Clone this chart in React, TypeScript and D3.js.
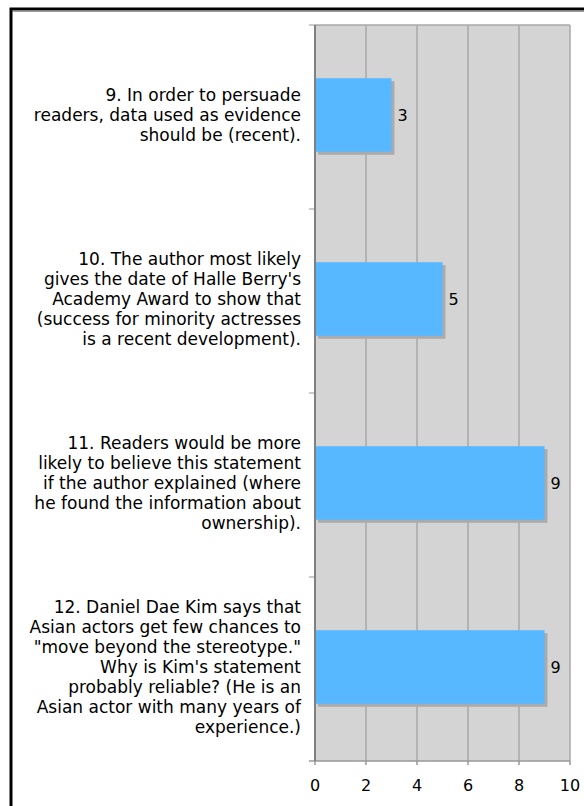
import React from "react";
import * as d3 from "d3";

const categories: string[][] = [
  ["9. In order to persuade", "readers, data used as evidence", "should be (recent)."],
  [
    "10. The author most likely",
    "gives the date of Halle Berry's",
    "Academy Award to show that",
    "(success for minority actresses",
    "is a recent development).",
  ],
  [
    "11. Readers would be more",
    "likely to believe this statement",
    "if the author explained (where",
    "he found the information about",
    "ownership).",
  ],
  [
    "12. Daniel Dae Kim says that",
    "Asian actors get few chances to",
    "\"move beyond the stereotype.\"",
    "Why is Kim's statement",
    "probably reliable? (He is an",
    "Asian actor with many years of",
    "experience.)",
  ],
];
const values: number[] = [3, 5, 9, 9];
const ticks: number[] = [0, 2, 4, 6, 8, 10];

const W = 584;
const H = 806;
const plotLeft = 315;
const plotRight = 570;
const plotTop = 25;
const plotBottom = 761;
const FONT = "'DejaVu Sans', Verdana, sans-serif";

export default function App() {
  const x = d3.scaleLinear().domain([0, 10]).range([plotLeft, plotRight]);
  const y = d3
    .scaleBand<number>()
    .domain(categories.map((_, i) => i))
    .range([plotTop, plotBottom])
    .padding(0);
  const band = y.bandwidth();
  const barH = band * 0.4;
  const lineH = 20;

  return (
    <svg
      width={W}
      height={H}
      style={{ position: "absolute", left: 0, top: 0, display: "block" }}
      fontFamily={FONT}
    >
      <rect x={0} y={0} width={W} height={H} fill="#fff" />
      {/* frame */}
      <rect x={11} y={9} width={700} height={900} fill="none" stroke="#000" strokeWidth={3} />
      <line x1={13} y1={11.5} x2={W} y2={11.5} stroke="#9a9a9a" strokeWidth={1} />
      {/* plot bg */}
      <rect
        x={plotLeft}
        y={plotTop}
        width={plotRight - plotLeft}
        height={plotBottom - plotTop}
        fill="#d4d4d4"
      />
      {/* gridlines */}
      {ticks.map((t) => (
        <line
          key={"g" + t}
          x1={x(t)}
          x2={x(t)}
          y1={plotTop}
          y2={plotBottom}
          stroke="#a8a8a8"
          strokeWidth={1.5}
        />
      ))}
      <line x1={plotLeft} x2={plotRight} y1={plotTop} y2={plotTop} stroke="#a8a8a8" strokeWidth={1.5} />
      {/* category ticks */}
      {categories.map((_, i) => (
        <line
          key={"ct" + i}
          x1={309}
          x2={plotLeft}
          y1={y(i) as number}
          y2={y(i) as number}
          stroke="#bbbbbb"
          strokeWidth={1.5}
        />
      ))}
      <line x1={309} x2={plotLeft} y1={plotBottom} y2={plotBottom} stroke="#999" strokeWidth={1.5} />
      {/* bottom axis */}
      <line x1={plotLeft} x2={plotRight} y1={plotBottom} y2={plotBottom} stroke="#999" strokeWidth={1.5} />
      {ticks.map((t) => (
        <line
          key={"t" + t}
          x1={x(t)}
          x2={x(t)}
          y1={plotBottom}
          y2={plotBottom + 4}
          stroke="#999"
          strokeWidth={1.5}
        />
      ))}
      {ticks.map((t) => (
        <text key={"tl" + t} x={x(t)} y={791} textAnchor="middle" fontSize={16} fill="#000">
          {t}
        </text>
      ))}
      {/* bars */}
      {values.map((v, i) => {
        const by = (y(i) as number) + (band - barH) / 2 - 2;
        return (
          <g key={"b" + i}>
            <rect x={x(0) + 3} y={by + 3} width={x(v) - x(0)} height={barH} fill="#ababab" />
            <rect x={x(0)} y={by} width={x(v) - x(0)} height={barH} fill="#57b8ff" />
            <text
              x={x(v) + 6}
              y={by + barH / 2}
              dominantBaseline="central"
              fontSize={16}
              fill="#000"
            >
              {v}
            </text>
          </g>
        );
      })}
      {/* left axis line */}
      <line x1={plotLeft} x2={plotLeft} y1={plotTop} y2={plotBottom} stroke="#808080" strokeWidth={2} />
      {/* category labels */}
      {categories.map((lines, i) => {
        const cy = (y(i) as number) + band / 2 - 2;
        const start = cy - ((lines.length - 1) * lineH) / 2;
        return (
          <text key={"c" + i} textAnchor="end" fontSize={17} fill="#000">
            {lines.map((ln, j) => (
              <tspan key={j} x={301} y={start + j * lineH} dominantBaseline="central">
                {ln}
              </tspan>
            ))}
          </text>
        );
      })}
    </svg>
  );
}
